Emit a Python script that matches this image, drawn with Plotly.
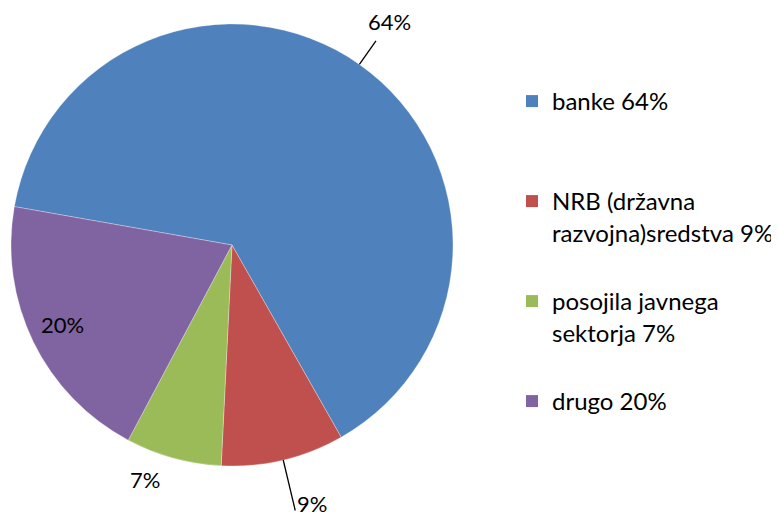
import math
import plotly.graph_objects as go

# ---- data ----
categories = ["banke", "NRB (državna razvojna)sredstva", "posojila javnega sektorja", "drugo"]
values = [64, 9, 7, 20]
legend_labels = ["banke 64%\u00a0<br>\u00a0", "NRB (državna<br>razvojna)sredstva 9%",
                 "posojila javnega<br>sektorja 7%", "drugo 20%"]
slice_labels = ["64%", "9%", "7%", "20%"]
colors = ["#4F81BD", "#C0504D", "#9BBB59", "#8064A2"]

# ---- layout constants (style) ----
W, H = 779, 512
OFF = 8                              # page body margin
CX, CY, R = 232 - OFF, 245 - OFF, 221  # pie centre / radius in px
ROTATION = 280
label_dist = [1.235, 1.225, 1.13, 0.846]   # radial factor of label centre
label_shift = [0, -3.8, 4.9, 1.0]          # small angular nudge (deg)
leader = [(1.0, 1.13), (1.0, 1.235), None, None]
FONT = "Lato, 'Liberation Sans', Arial, sans-serif"


def to_paper(angle_deg, dist):
    a = math.radians(angle_deg)
    px = CX + dist * R * math.sin(a)
    py = CY - dist * R * math.cos(a)
    return px / W, 1 - py / H


fig = go.Figure()
fig.add_trace(go.Pie(
    labels=categories,
    values=values,
    sort=False,
    direction="clockwise",
    rotation=ROTATION,
    marker=dict(colors=colors, line=dict(color="rgba(255,255,255,0.6)", width=0.5)),
    textinfo="none",
    hoverinfo="label+percent",
    showlegend=False,
    domain=dict(x=[(CX - R) / W, (CX + R) / W], y=[1 - (CY + R) / H, 1 - (CY - R) / H]),
))

# legend entries (one group each so the gap can be controlled)
for i, (lab, col) in enumerate(zip(legend_labels, colors)):
    fig.add_trace(go.Scatter(
        x=[None], y=[None], mode="markers", name=lab,
        marker=dict(symbol="square", size=12, color=col),
        legendgroup=f"g{i}", showlegend=True, hoverinfo="skip",
    ))

total = sum(values)
cum = 0
annotations = []
shapes = []
for i, v in enumerate(values):
    mid = ROTATION + (cum + v / 2) / total * 360
    cum += v
    lx, ly = to_paper(mid + label_shift[i], label_dist[i])
    annotations.append(dict(x=lx, y=ly, xref="paper", yref="paper", text=slice_labels[i],
                            showarrow=False, xanchor="center", yanchor="middle",
                            font=dict(family=FONT, size=22, color="#000000")))
    if leader[i]:
        x0, y0 = to_paper(mid, leader[i][0])
        x1, y1 = to_paper(mid, leader[i][1])
        shapes.append(dict(type="line", xref="paper", yref="paper", x0=x0, y0=y0, x1=x1, y1=y1,
                           line=dict(color="#000000", width=1.3)))

FS = 24
lh = FS * 1.3
fig.update_layout(
    width=W, height=H,
    margin=dict(l=0, r=0, t=0, b=0),
    paper_bgcolor="white", plot_bgcolor="white",
    xaxis=dict(visible=False), yaxis=dict(visible=False),
    annotations=annotations, shapes=shapes,
    legend=dict(x=(512 - OFF) / W, y=1 - (80 - 9) / H, xanchor="left", yanchor="top",
                font=dict(family=FONT, size=FS, color="#000000"),
                valign="top", tracegroupgap=100 - (2 * lh + 3),
                bgcolor="rgba(0,0,0,0)"),
    font=dict(family=FONT),
)

fig.write_html("out.html")
